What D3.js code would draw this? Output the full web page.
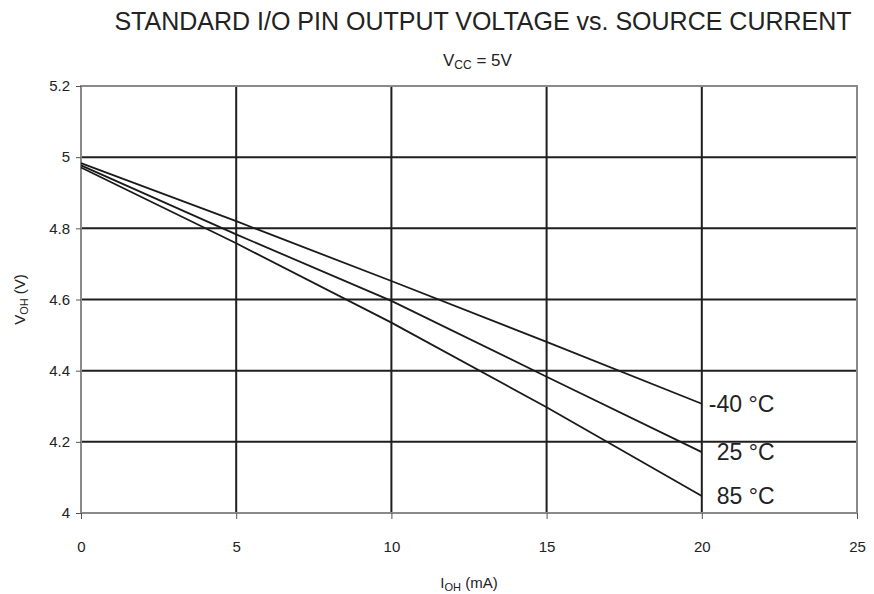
<!DOCTYPE html>
<html><head><meta charset="utf-8">
<script src="https://cdn.jsdelivr.net/npm/d3@7"></script>
<style>
html,body{margin:0;padding:0;background:#fff;}
svg{display:block;font-family:"Liberation Sans",Arial,sans-serif;}
</style></head>
<body>
<svg id="chart" width="874" height="594"></svg>
<script>
// ---- data ----
const currents = [0, 5, 10, 15, 20];              // I_OH (mA)
const seriesNames = ["-40 °C", "25 °C", "85 °C"];
const vMinus40 = [4.983, 4.820, 4.652, 4.481, 4.307];
const v25      = [4.977, 4.783, 4.596, 4.383, 4.171];
const v85      = [4.971, 4.758, 4.535, 4.297, 4.048];
const xTicks = [0, 5, 10, 15, 20, 25];
const yTicks = [4, 4.2, 4.4, 4.6, 4.8, 5, 5.2];
const yTickLabels = ["4", "4.2", "4.4", "4.6", "4.8", "5", "5.2"];

const series = [vMinus40, v25, v85].map((vals, i) => ({
  name: seriesNames[i],
  points: currents.map((c, j) => ({x: c, y: vals[j]}))
}));

const svg = d3.select("#chart");
const margin = {left: 81, right: 874 - 857, top: 86, bottom: 594 - 513};
const W = 874, H = 594;
const x = d3.scaleLinear().domain([0, 25]).range([margin.left, W - margin.right]);
const y = d3.scaleLinear().domain([4, 5.2]).range([H - margin.bottom, margin.top]);

// gridlines
const grid = svg.append("g");
grid.selectAll("line.h").data(yTicks.slice(1, -1)).join("line")
  .attr("x1", x(0)).attr("x2", x(25))
  .attr("y1", d => y(d)).attr("y2", d => y(d))
  .attr("stroke", "#1e1e1e").attr("stroke-width", 2);
grid.selectAll("line.v").data(xTicks.slice(1, -1)).join("line")
  .attr("y1", y(4)).attr("y2", y(5.2))
  .attr("x1", d => x(d)).attr("x2", d => x(d))
  .attr("stroke", "#1e1e1e").attr("stroke-width", 2);

// frame
svg.append("rect")
  .attr("x", x(0)).attr("y", y(5.2))
  .attr("width", x(25) - x(0)).attr("height", y(4) - y(5.2))
  .attr("fill", "none").attr("stroke", "#8a8a8a").attr("stroke-width", 2);

// axes
const xAxis = svg.append("g").attr("transform", `translate(0,${y(4)})`)
  .call(d3.axisBottom(x).tickValues(xTicks).tickSize(6).tickPadding(22).tickFormat(d3.format("d")));
const yAxis = svg.append("g").attr("transform", `translate(${x(0)},0)`)
  .call(d3.axisLeft(y).tickValues(yTicks).tickSize(5).tickPadding(6)
    .tickFormat((d, i) => yTickLabels[i]));
[xAxis, yAxis].forEach(a => {
  a.select(".domain").remove();
  a.selectAll(".tick line").attr("stroke", "#555");
  a.selectAll(".tick text").attr("fill", "#222").attr("font-size", 15)
    .attr("font-family", "Liberation Sans, Arial, sans-serif");
});

// lines
const line = d3.line().x(d => x(d.x)).y(d => y(d.y));
svg.append("g").selectAll("path").data(series).join("path")
  .attr("d", d => line(d.points))
  .attr("fill", "none").attr("stroke", "#1a1a1a").attr("stroke-width", 1.8);

// end labels
svg.append("g").selectAll("text").data(series).join("text")
  .attr("x", (d, i) => x(d.points[d.points.length - 1].x) + (i === 0 ? 7 : 15))
  .attr("y", d => y(d.points[d.points.length - 1].y) + 8)
  .attr("font-size", 23).attr("fill", "#222")
  .text(d => d.name);

// title
svg.append("text").attr("x", 483).attr("y", 30).attr("text-anchor", "middle")
  .attr("font-size", 25).attr("fill", "#222")
  .text("STANDARD I/O PIN OUTPUT VOLTAGE vs. SOURCE CURRENT");

// subtitle
const sub = svg.append("text").attr("x", 443).attr("y", 66).attr("font-size", 17).attr("fill", "#222");
sub.append("tspan").text("V");
sub.append("tspan").attr("font-size", 12).attr("dy", 3).text("CC");
sub.append("tspan").attr("dy", -3).text(" = 5V");

// x axis title
const xt = svg.append("text").attr("x", x(12.5)).attr("y", 588).attr("text-anchor", "middle")
  .attr("font-size", 15).attr("fill", "#222");
xt.append("tspan").text("I");
xt.append("tspan").attr("font-size", 11).attr("dy", 3).text("OH");
xt.append("tspan").attr("dy", -3).text(" (mA)");

// y axis title
const yt = svg.append("text").attr("transform", `translate(25,${y(4.6)}) rotate(-90)`)
  .attr("text-anchor", "middle").attr("font-size", 15).attr("fill", "#222");
yt.append("tspan").text("V");
yt.append("tspan").attr("font-size", 11).attr("dy", 3).text("OH");
yt.append("tspan").attr("dy", -3).text(" (V)");
</script>
</body></html>
